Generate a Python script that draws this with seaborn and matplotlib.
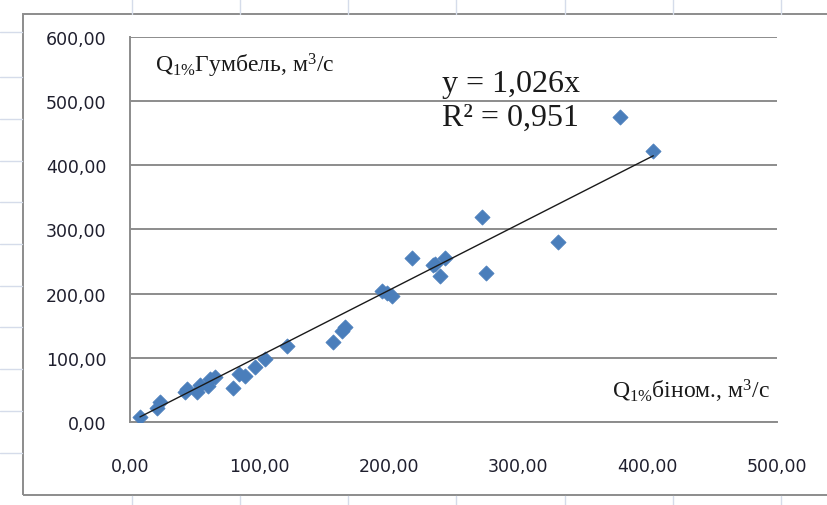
import numpy as np
import pandas as pd
import seaborn as sns
import matplotlib.pyplot as plt
from matplotlib.lines import Line2D
from matplotlib.patches import Rectangle

# Дані: Q1% за біноміальним розподілом та за Гумбелем, м3/с
q_binom = [7.7, 20.9, 23.2, 42.5, 44.3, 51.5, 54.1, 60.5, 61.8, 65.7,
           79.8, 84.5, 88.9, 96.6, 104.3, 121.1, 157.1, 163.6, 166.2,
           194.5, 198.4, 202.2, 217.7, 234.4, 235.7, 239.6, 243.4,
           271.8, 274.9, 331.0, 378.7, 404.4]
q_gumbel = [8.0, 21.8, 31.0, 47.2, 51.4, 46.3, 57.6, 56.5, 67.0, 69.6,
            52.5, 74.8, 72.1, 85.2, 98.1, 118.8, 124.1, 142.2, 147.5,
            204.5, 200.5, 196.7, 255.0, 244.0, 246.0, 227.9, 255.0,
            318.8, 232.0, 279.9, 474.6, 422.6]
slope = 1.026
r2 = 0.951
x_ticks = [0, 100, 200, 300, 400, 500]
y_ticks = [0, 100, 200, 300, 400, 500, 600]

df = pd.DataFrame({'binom': q_binom, 'gumbel': q_gumbel})

sns.set_style('white')
plt.rcParams['font.family'] = ['DejaVu Sans']
plt.rcParams['mathtext.fontset'] = 'custom'
plt.rcParams['mathtext.rm'] = 'Liberation Serif'
plt.rcParams['mathtext.it'] = 'Liberation Serif:italic'

grid_c = '#8c8c8c'
fig = plt.figure(figsize=(8.27, 5.06), dpi=100)

# світлі лінії комірок аркуша навколо діаграми
for yy in [33, 78, 120, 162, 203, 245, 287, 328, 370, 412, 454]:
    fig.add_artist(Line2D([0, 22 / 827], [1 - yy / 506] * 2, color='#d5dcea', lw=1))
for xx in [132, 240, 348, 456, 565, 673, 781]:
    fig.add_artist(Line2D([xx / 827] * 2, [1, 1 - 15 / 506], color='#d5dcea', lw=1))
    fig.add_artist(Line2D([xx / 827] * 2, [0, 1 - 497 / 506], color='#d5dcea', lw=1))

# рамка області діаграми
fig.add_artist(Rectangle((23 / 827, 1 - 496 / 506), 1.0, (496 - 15) / 506,
                         fill=False, edgecolor=grid_c, lw=1.4))

ax = fig.add_axes([130 / 827, 1 - 423 / 506, 647 / 827, 385 / 506])
sns.scatterplot(data=df, x='binom', y='gumbel', marker='D', s=60,
                color='#4a7ebb', edgecolor='#4a7ebb', linewidth=0.5,
                ax=ax, zorder=3)

# лінія тренду y = 1,026x
xs = np.array([min(q_binom), max(q_binom)])
ax.plot(xs, slope * xs, color='#1a1a1a', lw=1.0, zorder=4)

ax.set_xlim(0, 500)
ax.set_ylim(0, 600)
ax.set_xticks(x_ticks)
ax.set_yticks(y_ticks)
ax.set_xticklabels([f'{v:.2f}'.replace('.', ',') for v in x_ticks])
ax.set_yticklabels([f'{v:.2f}'.replace('.', ',') for v in y_ticks])
ax.tick_params(axis='both', direction='out', length=7, width=1.4,
               color=grid_c, labelsize=12.5, labelcolor='#1f1f2e')
ax.tick_params(axis='x', pad=18)
ax.tick_params(axis='y', pad=10)
ax.yaxis.grid(True, color=grid_c, lw=1.4)
ax.set_axisbelow(True)
for side in ['top', 'right']:
    ax.spines[side].set_visible(False)
for side in ['left', 'bottom']:
    ax.spines[side].set_color(grid_c)
    ax.spines[side].set_linewidth(1.4)
ax.set_xlabel('')
ax.set_ylabel('')

serif = 'Liberation Serif'
ax.text(19, 557, r'Q$_{\mathrm{1\%}}$Гумбель, м$^{3}$/с', family=serif,
        fontsize=17, color='#1a1a1a', va='center')
ax.text(500 - 7 / 1.294 - 0.5, 50, r'Q$_{\mathrm{1\%}}$біном., м$^{3}$/с',
        family=serif, fontsize=17, color='#1a1a1a', va='center', ha='right')
ax.text(241, 528, f'y = {slope:.3f}x'.replace('.', ','), family=serif,
        fontsize=23, color='#1a1a1a', va='center')
ax.text(241, 475, f'R² = {r2:.3f}'.replace('.', ','), family=serif,
        fontsize=23, color='#1a1a1a', va='center')

fig.savefig('out.png', dpi=100)
